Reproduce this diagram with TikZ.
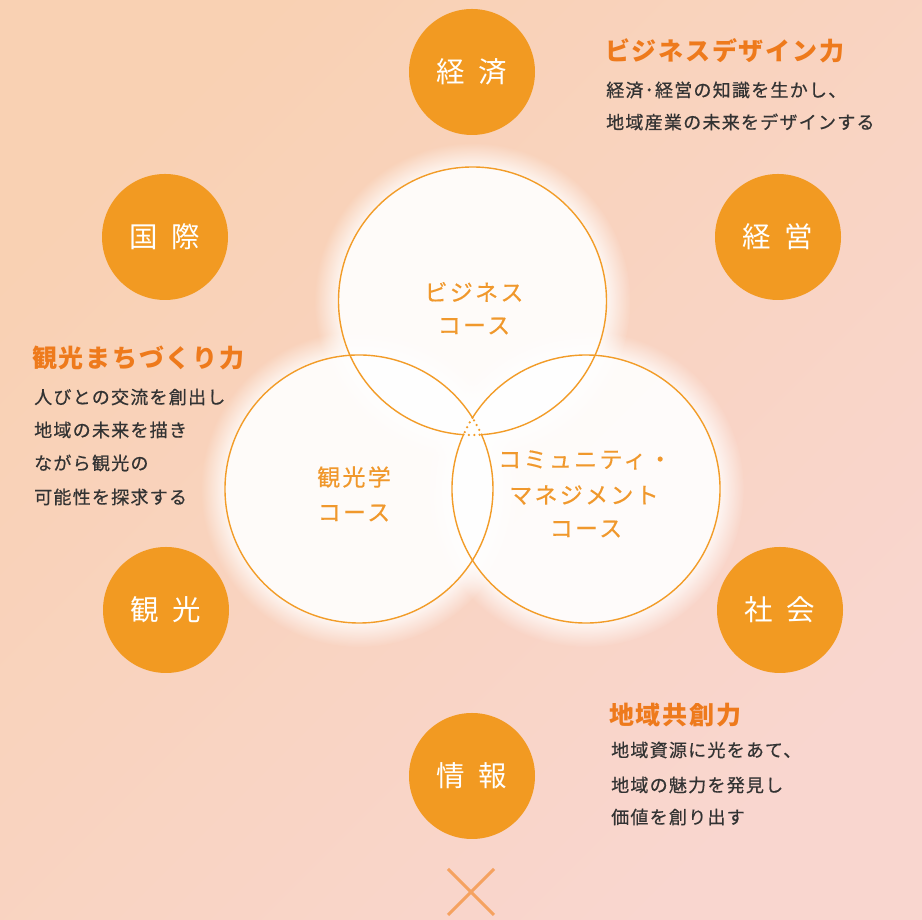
\documentclass[tikz,border=0pt]{standalone}
\usepackage{fontspec}
\usetikzlibrary{fadings,shadings,calc}
\newfontfamily\jp{Noto Sans CJK JP}
\newfontfamily\jpbody[LetterSpace=7,FakeBold=0.6]{Noto Sans CJK JP}
\newfontfamily\jptitle[LetterSpace=7]{Noto Sans CJK JP}
\newfontfamily\jpcourse[LetterSpace=10,FakeBold=0.4]{Noto Sans CJK JP}
\definecolor{bgTL}{HTML}{F9D1B3}
\definecolor{bgBR}{HTML}{F9D6CF}
\definecolor{dotorange}{HTML}{F29A22}
\definecolor{titleorange}{HTML}{EE7A1C}
\definecolor{courseorange}{HTML}{F0982C}
\definecolor{ringorange}{HTML}{F29C28}
\definecolor{crossorange}{HTML}{F5A260}
\definecolor{bodygray}{HTML}{333333}
\tikzset{
  topic/.style={circle,fill=dotorange,minimum size=126pt,inner sep=0pt,text=white,font=\jp\fontsize{28.5}{28}\selectfont},
  heading/.style={anchor=west,inner sep=0pt,text=titleorange,font=\jptitle\bfseries\fontsize{25}{25}\selectfont},
  bodyline/.style={anchor=west,inner sep=0pt,text=bodygray,font=\jpbody\fontsize{18}{18}\selectfont},
  course/.style={inner sep=0pt,text=courseorange,font=\jpcourse\fontsize{23}{23}\selectfont},
  ring/.style={draw=ringorange,line width=1.4pt},
  ringdots/.style={draw=ringorange,line width=2.5pt,line cap=round,dash pattern=on 0pt off 5.4pt},
  glow/.style={fill=white,path fading=circle with fuzzy edge 15 percent},
}
\begin{document}
\begin{tikzpicture}[x=1pt,y=1pt]
\useasboundingbox (0,0) rectangle (922,920);
\shade[shading=axis,top color=bgTL,bottom color=bgBR,shading angle=45] (0,0) rectangle (922,920);

% Venn centres
\coordinate (A) at (472.5,619);
\coordinate (B) at (359,431);
\coordinate (C) at (586,431);

% glow and fill
\foreach \p in {A,B,C}{
  \fill[glow,opacity=0.75] (\p) circle (158);
}
\foreach \p in {A,B,C}{
  \fill[white,opacity=0.68] (\p) circle (134);
}

% outlines: solid except inside the triple overlap
\draw[ring] ($(A)+(-86.15:134)$) arc[start angle=-86.15,end angle=266.15,radius=134];
\draw[ringdots] ($(A)+(266.15:134)$) arc[start angle=266.15,end angle=273.85,radius=134];
\draw[ring] ($(B)+(32.1:134)$) arc[start angle=32.1,end angle=383.9,radius=134];
\draw[ringdots] ($(B)+(23.9:134)$) arc[start angle=23.9,end angle=32.1,radius=134];
\draw[ring] ($(C)+(156.1:134)$) arc[start angle=156.1,end angle=507.9,radius=134];
\draw[ringdots] ($(C)+(147.9:134)$) arc[start angle=147.9,end angle=156.1,radius=134];

% course labels
\node[course] (biz1) at (474,628) {ビジネス};
\node[course] (biz2) at (474,594) {コース};
\node[course] (tour1) at (354,443) {観光学};
\node[course] (tour2) at (354,407) {コース};
\node[course] (com1) at (585,460) {コミュニティ・};
\node[course] (com2) at (584,425) {マネジメント};
\node[course] (com3) at (586,391) {コース};

% topic circles
\node[topic] (keizai) at (472,848) {経\hspace{14pt}済};
\node[topic] (kokusai) at (165,683) {国\hspace{14pt}際};
\node[topic] (keiei) at (778,683) {経\hspace{14pt}営};
\node[topic] (kanko) at (166,310) {観\hspace{14pt}光};
\node[topic] (shakai) at (780,310) {社\hspace{14pt}会};
\node[topic] (joho) at (472,144) {情\hspace{14pt}報};

% text blocks
\node[heading] (h1) at (605,869) {ビジネスデザイン力};
\node[bodyline] (h1a) at (606,830) {経済･経営の知識を生かし、};
\node[bodyline] (h1b) at (606,798) {地域産業の未来をデザインする};

\node[heading] (h2) at (32,562) {観光まちづくり力};
\node[bodyline] (h2a) at (34,523) {人びとの交流を創出し};
\node[bodyline] (h2b) at (34,490) {地域の未来を描き};
\node[bodyline] (h2c) at (34,457) {ながら観光の};
\node[bodyline] (h2d) at (34,423) {可能性を探求する};

\node[heading] (h3) at (609,205) {地域共創力};
\node[bodyline] (h3a) at (611,170) {地域資源に光をあて、};
\node[bodyline] (h3b) at (611,135) {地域の魅力を発見し};
\node[bodyline] (h3c) at (611,103) {価値を創り出す};

% cross
\coordinate (x1) at (448,51);
\coordinate (x2) at (494,5);
\coordinate (x3) at (494,51);
\coordinate (x4) at (448,5);
\draw[crossorange,line width=3pt] (x1) -- (x2);
\draw[crossorange,line width=3pt] (x3) -- (x4);
\end{tikzpicture}
\end{document}
